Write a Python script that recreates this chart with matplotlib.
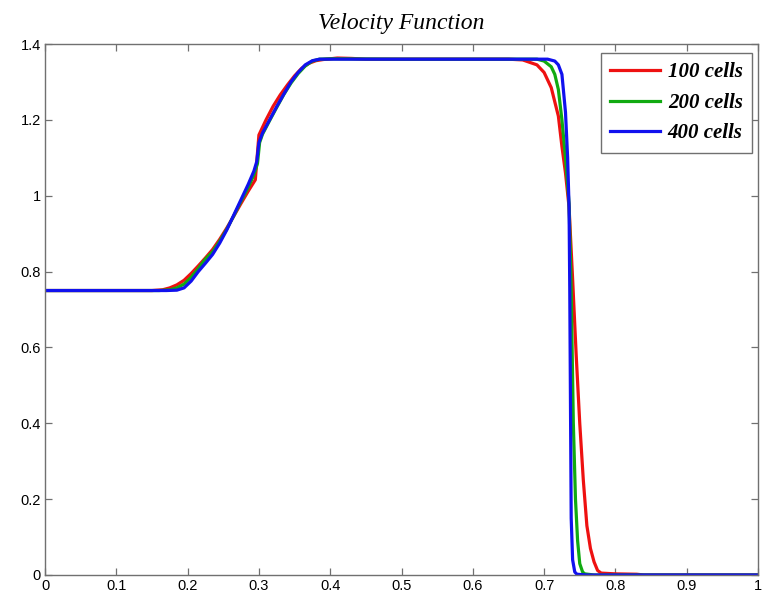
import matplotlib
matplotlib.use("Agg")
import matplotlib.pyplot as plt

# Velocity profiles for three grid resolutions
x_100 = [0.0, 0.15, 0.165, 0.175, 0.185, 0.195, 0.205, 0.215, 0.225, 0.235, 0.245,
         0.255, 0.265, 0.275, 0.285, 0.295, 0.300, 0.31, 0.32, 0.33, 0.34, 0.35,
         0.36, 0.37, 0.38, 0.39, 0.41, 0.43, 0.45, 0.55, 0.65, 0.67, 0.69, 0.70,
         0.71, 0.72, 0.725, 0.73, 0.735, 0.74, 0.745, 0.75, 0.755, 0.76, 0.765,
         0.77, 0.775, 0.78, 0.80, 0.83, 0.84, 1.0]
v_100 = [0.75, 0.75, 0.752, 0.757, 0.765, 0.777, 0.795, 0.815, 0.836, 0.858, 0.885,
         0.915, 0.947, 0.98, 1.012, 1.042, 1.16, 1.2, 1.236, 1.266, 1.292, 1.316,
         1.336, 1.349, 1.356, 1.359, 1.363, 1.362, 1.36, 1.36, 1.36, 1.358, 1.345, 1.325,
         1.285, 1.21, 1.13, 1.06, 0.97, 0.78, 0.58, 0.4, 0.25, 0.13, 0.07,
         0.035, 0.012, 0.005, 0.003, 0.002, 0.0, 0.0]

x_200 = [0.0, 0.16, 0.175, 0.185, 0.195, 0.205, 0.215, 0.225, 0.235, 0.245, 0.255,
         0.265, 0.275, 0.285, 0.293, 0.298, 0.301, 0.305, 0.315, 0.325, 0.335,
         0.345, 0.355, 0.365, 0.375, 0.385, 0.40, 0.50, 0.60, 0.69, 0.70, 0.71,
         0.715, 0.72, 0.725, 0.73, 0.735, 0.738, 0.741, 0.744, 0.747, 0.750,
         0.754, 0.757, 0.77, 1.0]
v_200 = [0.75, 0.75, 0.752, 0.757, 0.767, 0.785, 0.808, 0.833, 0.852, 0.88, 0.912,
         0.948, 0.986, 1.022, 1.055, 1.085, 1.14, 1.162, 1.198, 1.233, 1.267,
         1.297, 1.322, 1.342, 1.355, 1.36, 1.361, 1.36, 1.36, 1.36, 1.355, 1.34,
         1.32, 1.28, 1.2, 1.1, 0.98, 0.75, 0.4, 0.2, 0.09, 0.03,
         0.008, 0.003, 0.0, 0.0]

x_400 = [0.0, 0.17, 0.185, 0.195, 0.205, 0.215, 0.225, 0.235, 0.245, 0.255, 0.265,
         0.275, 0.285, 0.293, 0.297, 0.300, 0.305, 0.315, 0.325, 0.335, 0.345,
         0.355, 0.365, 0.375, 0.385, 0.40, 0.50, 0.60, 0.705, 0.715, 0.72, 0.725,
         0.73, 0.733, 0.735, 0.736, 0.737, 0.738, 0.740, 0.743, 0.746, 0.76, 1.0]
v_400 = [0.75, 0.75, 0.751, 0.757, 0.775, 0.8, 0.822, 0.845, 0.875, 0.91, 0.95,
         0.99, 1.03, 1.065, 1.09, 1.14, 1.165, 1.2, 1.235, 1.268, 1.3,
         1.325, 1.345, 1.356, 1.36, 1.36, 1.36, 1.36, 1.36, 1.355, 1.345, 1.32,
         1.22, 1.1, 0.97, 0.75, 0.45, 0.15, 0.04, 0.008, 0.002, 0.0, 0.0]

labels = ["100 cells", "200 cells", "400 cells"]
colors = ["#ee1111", "#11aa11", "#1111ee"]

x_ticks = [0, 0.1, 0.2, 0.3, 0.4, 0.5, 0.6, 0.7, 0.8, 0.9, 1.0]
x_tick_labels = ["0", "0.1", "0.2", "0.3", "0.4", "0.5", "0.6", "0.7", "0.8", "0.9", "1"]
y_ticks = [0, 0.2, 0.4, 0.6, 0.8, 1.0, 1.2, 1.4]
y_tick_labels = ["0", "0.2", "0.4", "0.6", "0.8", "1", "1.2", "1.4"]

fig = plt.figure(figsize=(7.63, 5.97), dpi=100)
ax = fig.add_axes([45 / 763, 1 - 575 / 597, 713 / 763, 531 / 597])

for xs, vs, lab, c in zip([x_100, x_200, x_400], [v_100, v_200, v_400], labels, colors):
    ax.plot(xs, vs, color=c, lw=2.3, label=lab, solid_joinstyle="round")

ax.set_xlim(0, 1)
ax.set_ylim(0, 1.4)
ax.set_xticks(x_ticks)
ax.set_xticklabels(x_tick_labels)
ax.set_yticks(y_ticks)
ax.set_yticklabels(y_tick_labels)

spine_color = "#707070"
for s in ax.spines.values():
    s.set_color(spine_color)
    s.set_linewidth(1.0)
ax.tick_params(direction="in", length=5, width=0.9, color=spine_color,
               top=True, right=True, labelsize=10.5, pad=3,
               labelfontfamily="Liberation Sans")

ax.set_title("Velocity Function", fontsize=17, style="italic",
             family="Liberation Serif", pad=11)

leg = ax.legend(loc="upper right", bbox_to_anchor=(0.9916, 0.983),
                borderaxespad=0, fancybox=False, framealpha=1,
                handlelength=2.4, handletextpad=0.35, labelspacing=0.5,
                borderpad=0.45,
                prop={"family": "Liberation Serif", "style": "italic",
                      "weight": "bold", "size": 15})
leg.get_frame().set_edgecolor("#707070")
leg.get_frame().set_linewidth(1.0)

fig.savefig("out.png", dpi=100)
